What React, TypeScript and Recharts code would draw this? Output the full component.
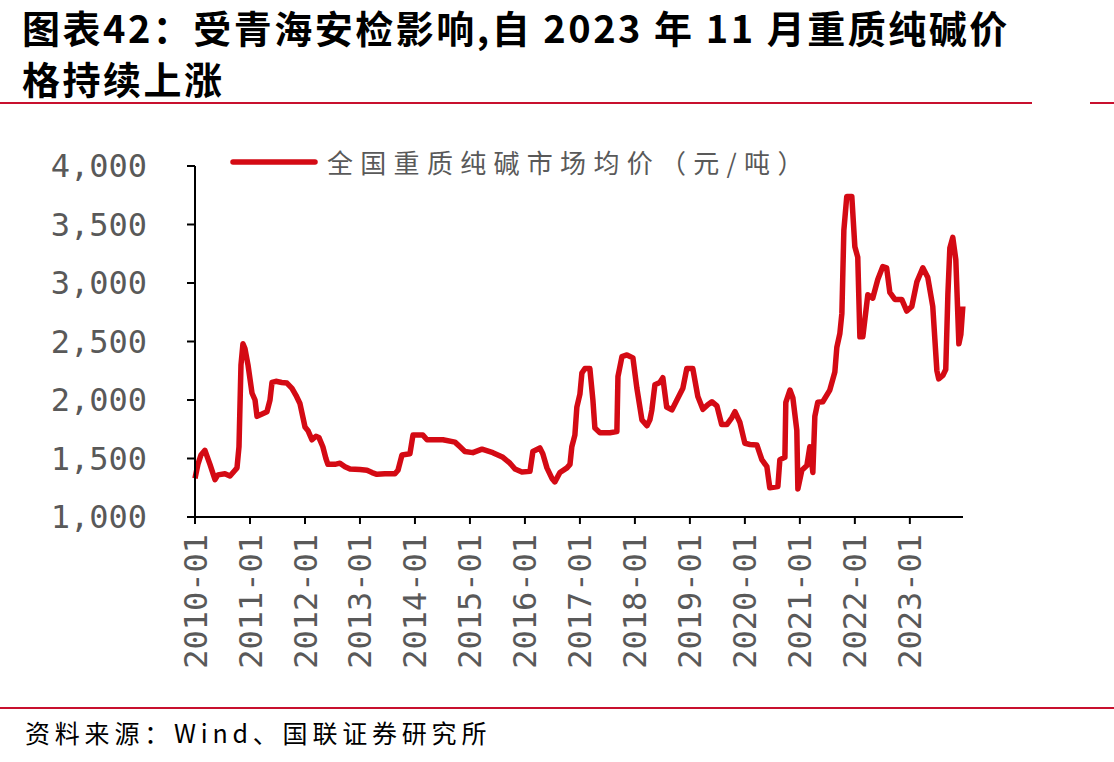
import { LineChart, Line, XAxis, YAxis } from 'recharts';

const dates = [
  '2010-01-01', '2010-01-20', '2010-02-10', '2010-03-06', '2010-04-09', '2010-05-12', '2010-06-01', '2010-07-17',
  '2010-08-20', '2010-09-23', '2010-10-06', '2010-10-19', '2010-11-02', '2010-11-15', '2010-11-28', '2010-12-18',
  '2011-01-14', '2011-02-04', '2011-02-17', '2011-03-20', '2011-04-22', '2011-05-12', '2011-05-25', '2011-06-21',
  '2011-07-29', '2011-09-03', '2011-10-06', '2011-11-02', '2011-11-28', '2011-12-18', '2012-01-01', '2012-01-20',
  '2012-02-17', '2012-03-13', '2012-04-02', '2012-04-28', '2012-05-18', '2012-06-01', '2012-07-17', '2012-08-20',
  '2012-09-23', '2012-10-26', '2013-01-01', '2013-02-17', '2013-03-20', '2013-04-22', '2013-06-14', '2013-08-20',
  '2013-09-10', '2013-10-06', '2013-11-28', '2013-12-18', '2014-02-23', '2014-03-20', '2014-07-04', '2014-09-23',
  '2014-10-26', '2014-11-28', '2015-01-20', '2015-03-20', '2015-06-01', '2015-08-07', '2015-09-23', '2015-10-26',
  '2015-12-11', '2016-02-04', '2016-02-23', '2016-04-09', '2016-04-28', '2016-05-25', '2016-06-28', '2016-07-17',
  '2016-08-20', '2016-10-06', '2016-10-26', '2016-11-08', '2016-11-28', '2016-12-11', '2017-01-01', '2017-01-14',
  '2017-02-04', '2017-03-06', '2017-03-26', '2017-04-09', '2017-05-12', '2017-07-17', '2017-09-03', '2017-09-10',
  '2017-10-06', '2017-11-09', '2017-12-18', '2018-01-14', '2018-02-17', '2018-03-20', '2018-04-09', '2018-04-22',
  '2018-05-12', '2018-06-14', '2018-07-04', '2018-07-29', '2018-09-03', '2018-10-06', '2018-11-15', '2018-12-11',
  '2019-01-20', '2019-02-23', '2019-03-26', '2019-04-28', '2019-05-25', '2019-06-28', '2019-07-29', '2019-09-03',
  '2019-10-06', '2019-10-26', '2019-11-28', '2020-01-01', '2020-02-04', '2020-03-20', '2020-04-22', '2020-05-25',
  '2020-06-14', '2020-08-07', '2020-08-20', '2020-09-23', '2020-09-29', '2020-10-26', '2020-11-15', '2020-12-11',
  '2020-12-18', '2021-01-14', '2021-02-17', '2021-03-06', '2021-03-26', '2021-04-09', '2021-04-28', '2021-06-01',
  '2021-07-17', '2021-08-20', '2021-09-03', '2021-09-23', '2021-10-06', '2021-10-19', '2021-11-08', '2021-12-11',
  '2022-01-01', '2022-01-20', '2022-02-04', '2022-02-23', '2022-03-26', '2022-04-28', '2022-06-01', '2022-07-04',
  '2022-07-29', '2022-08-20', '2022-09-23', '2022-11-08', '2022-12-11', '2023-01-14', '2023-02-17', '2023-03-26',
  '2023-04-28', '2023-06-01', '2023-06-28', '2023-07-10', '2023-08-07', '2023-08-26', '2023-09-10', '2023-09-23',
  '2023-10-12', '2023-11-02', '2023-11-22', '2023-12-05', '2023-12-18',
];

// 全国重质纯碱市场均价（元/吨）
const prices = [
  1330, 1450, 1530, 1570, 1450, 1320, 1360, 1370,
  1350, 1400, 1420, 1600, 2300, 2480, 2440, 2300,
  2060, 2000, 1860, 1880, 1900, 2000, 2150, 2160,
  2150, 2145, 2100, 2040, 1970, 1850, 1770, 1740,
  1660, 1690, 1680, 1600, 1500, 1450, 1450, 1460,
  1430, 1410, 1405, 1400, 1380, 1365, 1370, 1370,
  1400, 1530, 1540, 1700, 1700, 1660, 1660, 1640,
  1600, 1560, 1550, 1580, 1550, 1510, 1460, 1410,
  1385, 1390, 1560, 1590, 1540, 1420, 1330, 1300,
  1380, 1420, 1450, 1600, 1700, 1940, 2050, 2230,
  2270, 2270, 2000, 1760, 1720, 1720, 1730, 2200,
  2370, 2385, 2360, 2100, 1830, 1780, 1830, 1915,
  2130, 2150, 2190, 1940, 1915, 2000, 2100, 2270,
  2270, 2030, 1920, 1960, 1985, 1950, 1790, 1790,
  1850, 1900, 1810, 1630, 1620, 1615, 1490, 1430,
  1250, 1260, 1490, 1510, 1980, 2085, 2020, 1740,
  1240, 1400, 1440, 1600, 1380, 1860, 1980, 1985,
  2085, 2240, 2450, 2570, 2740, 3450, 3740, 3740,
  3310, 3220, 2540, 2540, 2900, 2870, 3030, 3140,
  3130, 2920, 2860, 2860, 2760, 2800, 3010, 3130,
  3050, 2800, 2250, 2180, 2210, 2260, 2900, 3300,
  3390, 3200, 2480, 2560, 2800,
];

const xTickLabels = [
  '2010-01', '2011-01', '2012-01', '2013-01', '2014-01', '2015-01', '2016-01',
  '2017-01', '2018-01', '2019-01', '2020-01', '2021-01', '2022-01', '2023-01',
];

const yTicks = [1000, 1500, 2000, 2500, 3000, 3500, 4000];

const RED = '#D40A14';
const GRAY = '#595959';
const RULE = '#C8102E';

// months since 2010-01
const toMonthIndex = (d: string) => {
  const [y, m, day] = d.split('-').map(Number);
  return (y - 2010) * 12 + (m - 1) + ((day || 1) - 1) / 30;
};

const data = dates.map((d, i) => ({ date: d, t: toMonthIndex(d), price: prices[i] }));
const xTicks = xTickLabels.map((l) => toMonthIndex(l + '-01'));
const labelFor = (t: number) => xTickLabels[xTicks.indexOf(t)] ?? '';

const XTick = (props: any) => {
  const { x, y, payload } = props;
  return (
    <g transform={`translate(${x},${y})`}>
      <text
        transform="rotate(-90)"
        textAnchor="end"
        dy="0.36em"
        fill={GRAY}
        fontSize={32}
        fontFamily="'DejaVu Sans Mono', monospace"
      >
        {labelFor(payload.value)}
      </text>
    </g>
  );
};

export default function App() {
  return (
    <div
      style={{
        position: 'absolute',
        left: 0,
        top: 0,
        width: 1114,
        height: 762,
        background: '#fff',
        overflow: 'hidden',
        fontFamily: "'Noto Sans CJK SC', sans-serif",
      }}
    >
      <div
        style={{
          position: 'absolute',
          left: 22,
          top: 1,
          whiteSpace: 'nowrap',
          fontSize: 38,
          lineHeight: '51px',
          fontWeight: 700,
          letterSpacing: 2.5,
          color: '#000',
        }}
      >
        <div>图表42：受青海安检影响,自 2023 年 11 月重质纯碱价</div>
        <div>格持续上涨</div>
      </div>
      <div style={{ position: 'absolute', left: 0, top: 102, width: 1032, height: 2, background: RULE }} />
      <div style={{ position: 'absolute', left: 1090, top: 102, width: 24, height: 2, background: RULE }} />

      <div style={{ position: 'absolute', left: 0, top: 0 }}>
        <LineChart
          width={1114}
          height={762}
          data={data}
          margin={{ top: 166, right: 151, bottom: 0, left: 0 }}
        >
          <XAxis
            dataKey="t"
            type="number"
            domain={[0, 167.6]}
            ticks={xTicks}
            interval={0}
            tick={<XTick />}
            tickSize={7}
            tickMargin={10}
            height={245}
            axisLine={{ stroke: '#000', strokeWidth: 2 }}
            tickLine={{ stroke: '#000', strokeWidth: 2 }}
          />
          <YAxis
            type="number"
            domain={[1000, 4000]}
            ticks={yTicks}
            interval={0}
            width={195}
            tickSize={8}
            tickMargin={40}
            tickFormatter={(v: number) => v.toLocaleString('en-US')}
            tick={{ fill: GRAY, fontSize: 32, fontFamily: "'DejaVu Sans Mono', monospace" }}
            axisLine={{ stroke: '#000', strokeWidth: 2 }}
            tickLine={{ stroke: '#000', strokeWidth: 2 }}
          />
          <Line
            type="linear"
            dataKey="price"
            name="全国重质纯碱市场均价（元/吨）"
            stroke={RED}
            strokeWidth={5.5}
            strokeLinejoin="round"
            dot={false}
            activeDot={false}
            isAnimationActive={false}
          />
        </LineChart>
      </div>

      {/* legend */}
      <div style={{ position: 'absolute', left: 229, top: 143, display: 'flex', alignItems: 'center', whiteSpace: 'nowrap' }}>
        <svg width={92} height={12}>
          <line x1={4} y1={6} x2={86} y2={6} stroke={RED} strokeWidth={5.5} strokeLinecap="round" />
        </svg>
        <span style={{ marginLeft: 6, fontSize: 26, lineHeight: '38px', letterSpacing: 7.3, color: GRAY }}>
          全国重质纯碱市场均价（元/吨）
        </span>
      </div>

      <div style={{ position: 'absolute', left: 0, top: 707, width: 1114, height: 2, background: RULE }} />
      <div
        style={{
          position: 'absolute',
          left: 25,
          top: 714,
          whiteSpace: 'nowrap',
          fontSize: 25,
          lineHeight: '36px',
          letterSpacing: 4.8,
          color: '#000',
        }}
      >
        资料来源：Wind、国联证券研究所
      </div>
    </div>
  );
}
